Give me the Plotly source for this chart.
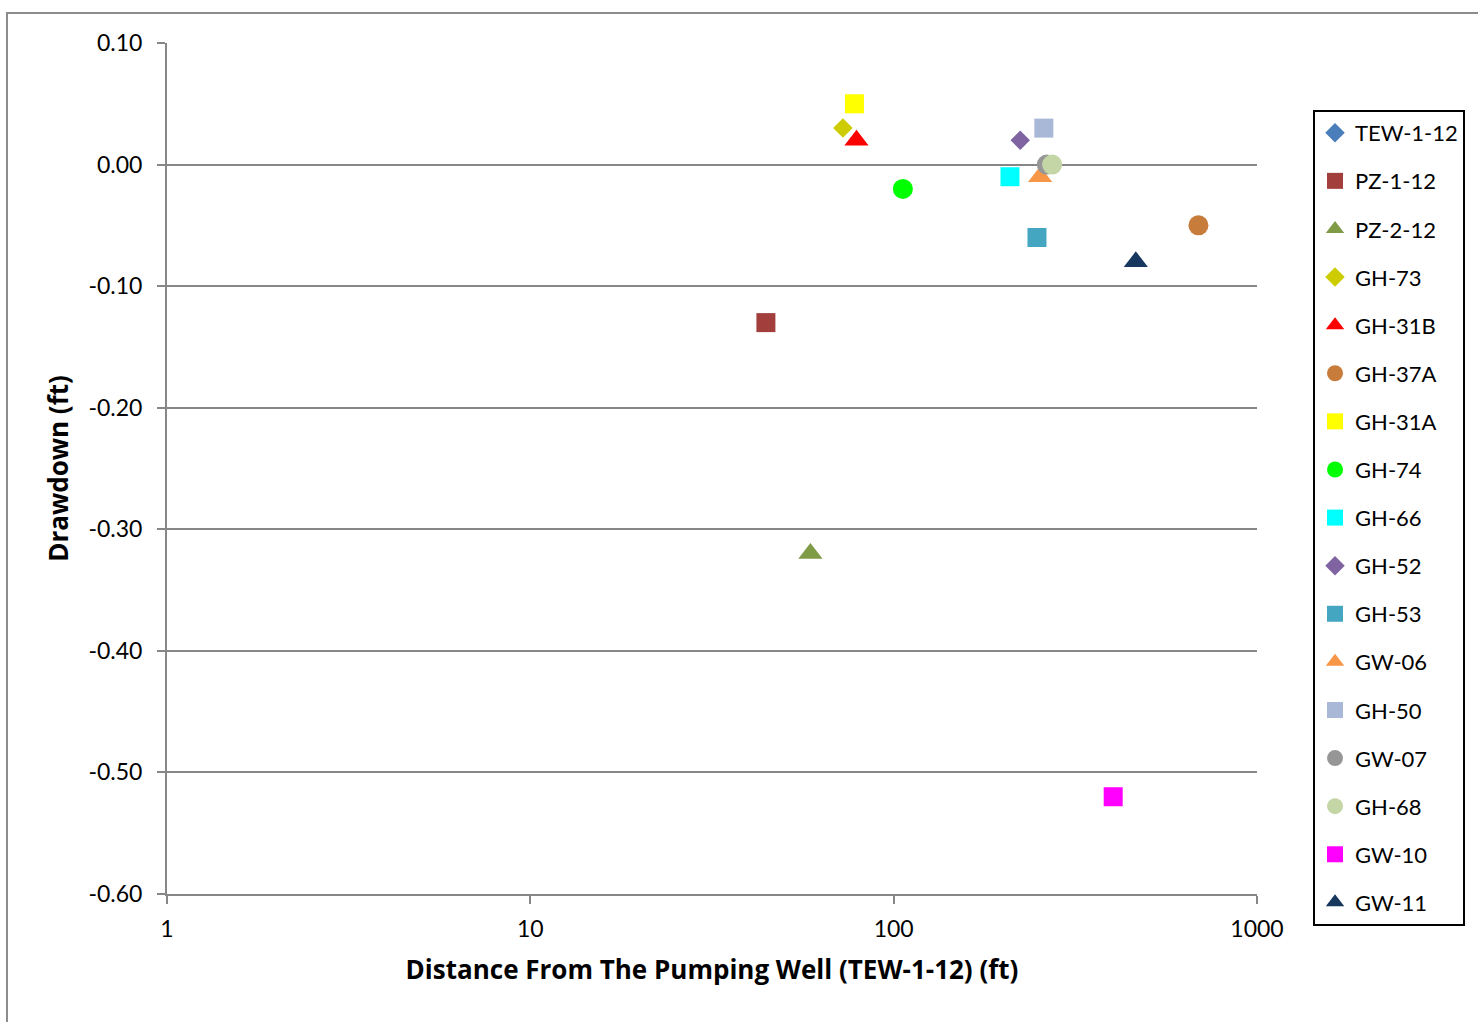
import plotly.graph_objects as go

# Monitoring wells: distance from pumping well (ft) and drawdown (ft)
wells = ["TEW-1-12", "PZ-1-12", "PZ-2-12", "GH-73", "GH-31B", "GH-37A", "GH-31A",
         "GH-74", "GH-66", "GH-52", "GH-53", "GW-06", "GH-50", "GW-07", "GH-68",
         "GW-10", "GW-11"]
distance_ft = [None, 44.5, 59, 72.5, 79, 690, 78, 106, 209, 223, 248, 253, 259, 264, 273, 402, 464]
drawdown_ft = [None, -0.13, -0.32, 0.03, 0.02, -0.05, 0.05, -0.02, -0.01, 0.02, -0.06,
               -0.01, 0.03, 0.00, 0.00, -0.52, -0.08]

symbols = ["diamond", "square", "triangle-up", "diamond", "triangle-up", "circle", "square",
           "circle", "square", "diamond", "square", "triangle-up", "square", "circle",
           "circle", "square", "triangle-up"]
colors = ["#4A7EBB", "#A23F3D", "#7F9B46", "#CCCC00", "#FF0000", "#C87C3C", "#FFFF00",
          "#00FF00", "#00FFFF", "#8064A2", "#45A6C2", "#F79646", "#A9B8D6", "#969696",
          "#C4D6A6", "#FF00FF", "#17375E"]

y_ticks = [0.10, 0.00, -0.10, -0.20, -0.30, -0.40, -0.50, -0.60]
y_tick_text = ["0.10", "0.00", "-0.10", "-0.20", "-0.30", "-0.40", "-0.50", "-0.60"]
x_ticks = [1, 10, 100, 1000]
x_tick_text = ["1", "10", "100", "1000"]

marker_size = {"diamond": 15, "square": 19, "triangle-up": 21, "circle": 20}

FONT = "Lato, Open Sans, sans-serif"
TITLE_FONT = "Open Sans, Lato, sans-serif"

fig = go.Figure()
for name, x, y, sym, col in zip(wells, distance_ft, drawdown_ft, symbols, colors):
    fig.add_trace(go.Scatter(
        x=[x], y=[y], mode="markers", name=name, legendgroup=name,
        marker=dict(symbol=sym, color=col, size=marker_size[sym], line=dict(width=0)),
    ))

grid_col = "#878787"
fig.update_layout(
    width=1478, height=1022,
    margin=dict(l=167, r=221, t=43, b=128, autoexpand=False),
    paper_bgcolor="white", plot_bgcolor="white",
    font=dict(family=FONT, size=23, color="black"),
    showlegend=True,
    legend=dict(
        x=1.0514, y=0.9213, xanchor="left", yanchor="top",
        bordercolor="black", borderwidth=2, bgcolor="white",
        font=dict(family=FONT, size=22, color="black"),
        traceorder="grouped", tracegroupgap=16.5,
        itemwidth=30,
    ),
    xaxis=dict(
        type="log", range=[0, 3],
        tickvals=x_ticks, ticktext=x_tick_text,
        ticks="outside", ticklen=8, tickcolor=grid_col, tickwidth=2,
        showline=True, linecolor=grid_col, linewidth=2,
        showgrid=False, zeroline=False,
        tickfont=dict(size=23),
        ticklabelstandoff=5,
        title=dict(text="<b>Distance From The Pumping Well (TEW-1-12) (ft)</b>",
                   font=dict(family=TITLE_FONT, size=26), standoff=20),
    ),
    yaxis=dict(
        range=[-0.60, 0.10],
        tickvals=y_ticks, ticktext=y_tick_text,
        ticks="outside", ticklen=8, tickcolor=grid_col, tickwidth=2,
        showline=True, linecolor=grid_col, linewidth=2,
        showgrid=True, gridcolor=grid_col, gridwidth=2,
        zeroline=False,
        tickfont=dict(size=23),
        ticklabelstandoff=10,
        title=dict(text="<b>Drawdown (ft)</b>",
                   font=dict(family=TITLE_FONT, size=26), standoff=12),
    ),
    shapes=[dict(
        type="rect", xref="paper", yref="paper",
        x0=-0.1468, x1=1.3, y0=-0.3, y1=1.0353,
        line=dict(color="#8C8C8C", width=2), fillcolor="rgba(0,0,0,0)", layer="below",
    )],
)

fig.write_html("out.html")
